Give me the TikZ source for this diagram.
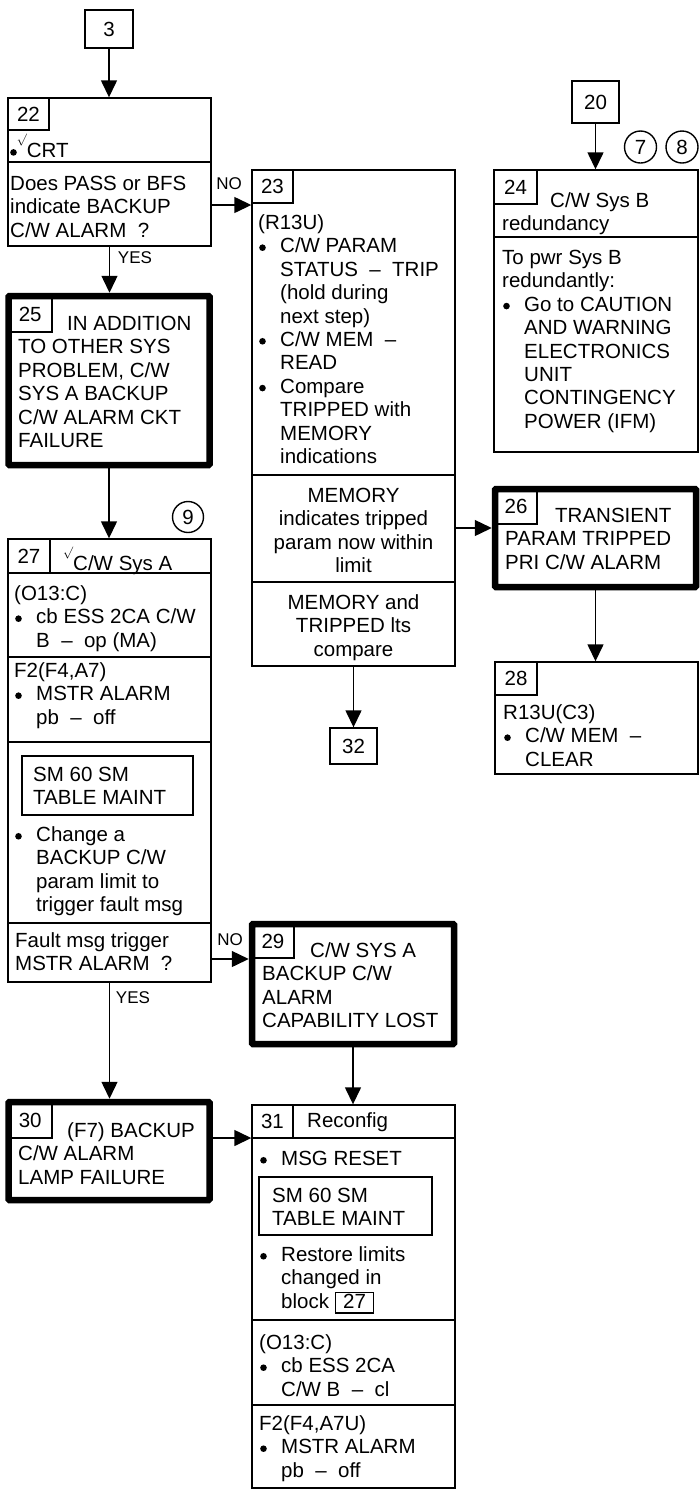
\documentclass[tikz,border=0pt]{standalone}
\usepackage{fontspec}
\setmainfont{Liberation Sans}
\usetikzlibrary{arrows.meta}
\newcommand\mainfs{\fontsize{20.5}{23.4}\selectfont}
\newcommand\labfs{\fontsize{17}{20}\selectfont}
\newcommand\dotx{\raisebox{2pt}{\tikz\fill (0,0) circle (3.3pt);}}
\newcommand\bulx{\makebox[22pt][l]{\hspace{1pt}\dotx}}
\newcommand\indx{\makebox[22pt]{}}
\newcommand\gapx[1]{\makebox[#1]{}}
\newcommand\chkx{\raisebox{14.5pt}{\scalebox{0.58}{$\surd$}}}
\newcommand\nboxx[1]{{\setlength{\fboxsep}{0pt}\setlength{\fboxrule}{1.3pt}\fbox{\makebox[37pt]{\rule[-4pt]{0pt}{19pt}#1}}}}
\begin{document}
\begin{tikzpicture}[x=1pt,y=-1pt,
  box/.style={draw, line width=1.4pt, inner sep=0pt, rectangle},
  tbox/.style={draw, line width=6.5pt, inner sep=0pt, rectangle, rounded corners=1pt},
  num/.style={box, font=\mainfs},
  txt/.style={anchor=north west, inner sep=0pt, align=left, font=\mainfs},
  ctxt/.style={anchor=north, inner sep=0pt, align=center, font=\mainfs},
  lab/.style={inner sep=0pt, font=\labfs},
  arr/.style={-{Triangle[length=17pt,width=16pt]}, line width=1.4pt},
  circ/.style={draw, circle, line width=1.4pt, inner sep=0pt, minimum size=32pt, font=\mainfs},
  divl/.style={line width=1.4pt}]
\useasboundingbox (0,0) rectangle (699,1489);

% box 3
\node[num, minimum width=48pt, minimum height=38pt] (b3) at (109,29) {3};

% block 22
\node[box, minimum width=203pt, minimum height=148pt] (b22) at (109.5,172) {};
\node[num, minimum width=41pt, minimum height=32pt] (n22) at (28.5,114) {22};
\draw[divl] (b22.west |- 0,162) -- (b22.east |- 0,162);
\node[txt] (t22a) at (10,134) {\strut\dotx\chkx CRT};
\node[txt] (t22b) at (10,174) {\strut Does PASS or BFS\\indicate BACKUP\\C/W ALARM~~?};

% block 23
\node[box, minimum width=203pt, minimum height=496pt] (b23) at (353.5,418) {};
\node[num, minimum width=41pt, minimum height=33pt] (n23) at (272.5,186.5) {23};
\node[txt] (t23a) at (258,213) {\strut(R13U)\\\bulx C/W PARAM\\\indx STATUS~~–~~TRIP\\\indx (hold during\\\indx next step)\\\bulx C/W MEM~~–\\\indx READ\\\bulx Compare\\\indx TRIPPED with\\\indx MEMORY\\\indx indications};
\draw[divl] (b23.west |- 0,475) -- (b23.east |- 0,475);
\node[ctxt] (t23b) at (353.5,486) {\strut MEMORY\\indicates tripped\\param now within\\limit};
\draw[divl] (b23.west |- 0,582) -- (b23.east |- 0,582);
\node[ctxt] (t23c) at (353.5,593) {\strut MEMORY and\\TRIPPED lts\\compare};

% box 20, circles, block 24
\node[num, minimum width=47pt, minimum height=42pt] (b20) at (595.5,102) {20};
\node[circ] (c7) at (640.5,147) {7};
\node[circ] (c8) at (682,147) {8};
\node[box, minimum width=204pt, minimum height=282pt] (b24) at (596,311) {};
\node[num, minimum width=43pt, minimum height=34pt] (n24) at (515.5,187) {24};
\node[txt] (t24a) at (502,191) {\strut\gapx{48pt}C/W Sys B\\redundancy};
\draw[divl] (b24.west |- 0,237) -- (b24.east |- 0,237);
\node[txt] (t24b) at (502,248) {\strut To pwr Sys B\\redundantly:\\\bulx Go to CAUTION\\\indx AND WARNING\\\indx ELECTRONICS\\\indx UNIT\\\indx CONTINGENCY\\\indx POWER (IFM)};

% block 25
\node[tbox, minimum width=201pt, minimum height=169pt] (b25) at (109,380.5) {};
\node[num, minimum width=43.5pt, minimum height=36pt] (n25) at (30.25,314) {25};
\node[txt] (t25) at (18,314) {\strut\gapx{49pt}IN ADDITION\\TO OTHER SYS\\PROBLEM, C/W\\SYS A BACKUP\\C/W ALARM CKT\\FAILURE};

% block 26
\node[tbox, minimum width=201pt, minimum height=98pt] (b26) at (595.5,538) {};
\node[num, minimum width=42pt, minimum height=35pt] (n26) at (516,506.5) {26};
\node[txt] (t26) at (505,506) {\strut\gapx{50pt}TRANSIENT\\PARAM TRIPPED\\PRI C/W ALARM};

% block 28
\node[box, minimum width=203pt, minimum height=112pt] (b28) at (596.5,718) {};
\node[num, minimum width=42pt, minimum height=33pt] (n28) at (516,678.5) {28};
\node[txt] (t28) at (503,703) {\strut R13U(C3)\\\bulx C/W MEM~~–\\\indx CLEAR};

% box 32
\node[num, minimum width=47pt, minimum height=36pt] (b32) at (353.5,746) {32};

% block 27
\node[circ, minimum size=31pt] (c9) at (188,517) {9};
\node[box, minimum width=203pt, minimum height=443pt] (b27) at (109.5,760.5) {};
\node[num, minimum width=42pt, minimum height=34pt] (n27) at (29,556) {27};
\draw[divl] (b27.west |- 0,573) -- (b27.east |- 0,573);
\node[txt] (t27h) at (63,547) {\strut\chkx C/W Sys A};
\node[txt] (t27a) at (14,584) {\strut(O13:C)\\\bulx cb ESS 2CA C/W\\\indx B~~–~~op (MA)};
\draw[divl] (b27.west |- 0,657) -- (b27.east |- 0,657);
\node[txt] (t27b) at (14,661) {\strut F2(F4,A7)\\\bulx MSTR ALARM\\\indx pb~~–~~off};
\draw[divl] (b27.west |- 0,742) -- (b27.east |- 0,742);
\node[box, minimum width=171pt, minimum height=59pt] (s27) at (107.5,785.5) {};
\node[txt] (t27s) at (33,765) {\strut SM 60 SM\\TABLE MAINT};
\node[txt] (t27c) at (14,825) {\strut\bulx Change a\\\indx BACKUP C/W\\\indx param limit to\\\indx trigger fault msg};
\draw[divl] (b27.west |- 0,923) -- (b27.east |- 0,923);
\node[txt] (t27d) at (15,931) {\strut Fault msg trigger\\MSTR ALARM~~?};

% block 29
\node[tbox, minimum width=202pt, minimum height=120pt] (b29) at (353,984) {};
\node[num, minimum width=42pt, minimum height=34pt] (n29) at (273,941) {29};
\node[txt] (t29) at (262,941) {\strut\gapx{48pt}C/W SYS A\\BACKUP C/W\\ALARM\\CAPABILITY LOST};

% block 30
\node[tbox, minimum width=201pt, minimum height=98pt] (b30) at (109,1151) {};
\node[num, minimum width=43.5pt, minimum height=36pt] (n30) at (30.25,1120) {30};
\node[txt] (t30) at (18,1121) {\strut\gapx{49pt}(F7) BACKUP\\C/W ALARM\\LAMP FAILURE};

% block 31
\node[box, minimum width=203pt, minimum height=383pt] (b31) at (353.5,1296.5) {};
\node[num, minimum width=41pt, minimum height=33pt] (n31) at (272.5,1121.5) {31};
\draw[divl] (b31.west |- 0,1138) -- (b31.east |- 0,1138);
\node[txt] (t31h) at (307,1111) {\strut Reconfig};
\node[txt] (t31a) at (259,1149) {\strut\bulx MSG RESET};
\node[box, minimum width=173pt, minimum height=58pt] (s31) at (345.5,1206) {};
\node[txt] (t31s) at (272,1186) {\strut SM 60 SM\\TABLE MAINT};
\node[txt] (t31b) at (259,1245) {\strut\bulx Restore limits\\\indx changed in\\\indx block \nboxx{27}};
\draw[divl] (b31.west |- 0,1320) -- (b31.east |- 0,1320);
\node[txt] (t31c) at (259,1333) {\strut(O13:C)\\\bulx cb ESS 2CA\\\indx C/W B~~–~~cl};
\draw[divl] (b31.west |- 0,1405) -- (b31.east |- 0,1405);
\node[txt] (t31d) at (259,1414) {\strut F2(F4,A7U)\\\bulx MSTR ALARM\\\indx pb~~–~~off};

% connectors
\draw[arr] (b3.south) -- (b3.south |- b22.north);
\draw[arr] (b22.south) -- (b22.south |- b25.north);
\draw[arr] (b22.east |- 0,205) -- (b23.west |- 0,205);
\draw[arr] (b20.south) -- (b20.south |- b24.north);
\draw[arr] (b25.south) -- (b25.south |- b27.north);
\draw[arr] (b23.east |- 0,528) -- (b26.west |- 0,528);
\draw[arr] (b26.south) -- (b26.south |- b28.north);
\draw[arr] (b23.south) -- (b32.north);
\draw[arr] (b27.east |- 0,959) -- (b29.west |- 0,959);
\draw[arr] (b27.south) -- (b27.south |- b30.north);
\draw[arr] (b29.south) -- (b29.south |- b31.north);
\draw[arr] (b30.east |- 0,1138) -- (b31.west |- 0,1138);

% labels
\node[lab] (no1) at (229,184) {NO};
\node[lab] (yes1) at (135,258) {YES};
\node[lab] (no2) at (230,940) {NO};
\node[lab] (yes2) at (133,998) {YES};
\end{tikzpicture}
\end{document}
